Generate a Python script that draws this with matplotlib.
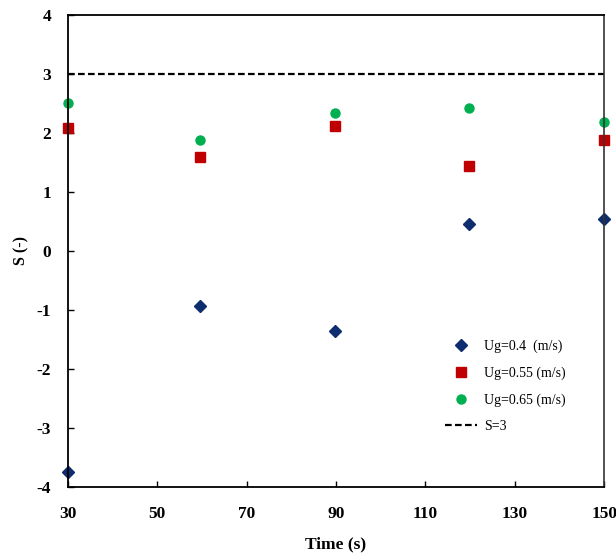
import matplotlib
matplotlib.use("Agg")
import matplotlib.pyplot as plt

plt.rcParams['font.family'] = ['Liberation Serif', 'DejaVu Serif']
plt.rcParams['axes.unicode_minus'] = False

# data
time_s = [30, 59.5, 89.7, 119.8, 150]
s_04 = [-3.75, -0.94, -1.36, 0.46, 0.55]
s_055 = [2.09, 1.60, 2.11, 1.44, 1.88]
s_065 = [2.50, 1.88, 2.33, 2.42, 2.18]
s_limit = 3
x_ticks = [30, 50, 70, 90, 110, 130, 150]
y_ticks = [-4, -3, -2, -1, 0, 1, 2, 3, 4]

fig = plt.figure(figsize=(6.16, 5.54), dpi=100)
ax = fig.add_axes([0.110, 0.121, 0.871, 0.852])

ax.plot(time_s, s_04, linestyle='none', marker='D', ms=6, color='#0e2d6e',
        label='Ug=0.4  (m/s)', clip_on=False)
ax.plot(time_s, s_055, linestyle='none', marker='s', ms=6.5, color='#c00000',
        label='Ug=0.55 (m/s)', clip_on=False)
ax.plot(time_s, s_065, linestyle='none', marker='o', ms=6.5, color='#00b050',
        label='Ug=0.65 (m/s)', clip_on=False)
ax.plot([x_ticks[0], x_ticks[-1]], [s_limit, s_limit], color='black', lw=1.6,
        linestyle=(0, (3, 1.5)), label='S=3')

ax.set_xlim(30, 150)
ax.set_ylim(-4, 4)
ax.set_xticks(x_ticks)
ax.set_yticks(y_ticks)
ax.tick_params(direction='in', length=4, width=1, top=False, right=False)
ax.tick_params(axis='x', pad=14)
ax.tick_params(axis='y', pad=12)
for lab in ax.get_xticklabels() + ax.get_yticklabels():
    lab.set_fontweight('bold')
    lab.set_fontsize(12.5)

for side in ['left', 'bottom', 'top']:
    ax.spines[side].set_linewidth(1.3)
    ax.spines[side].set_color('black')
ax.spines['right'].set_linewidth(1.2)
ax.spines['right'].set_color('#333333')

ax.set_xlabel('Time (s)', fontsize=12.5, fontweight='bold', labelpad=10)
ax.set_ylabel('S (-)', fontsize=11.5, fontweight='bold', labelpad=5)

ax.legend(loc='upper left', bbox_to_anchor=(0.68, 0.338), frameon=False,
          fontsize=10, handlelength=2.3, handletextpad=0.5, labelspacing=0.95)

fig.savefig('out.png', dpi=100)
